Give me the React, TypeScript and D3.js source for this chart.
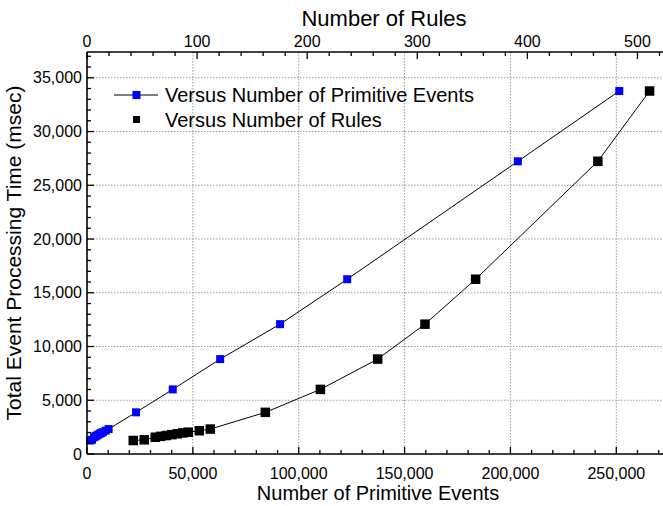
import React, { useRef, useEffect } from 'react';
import * as d3 from 'd3';

// total processing time (msec), shared by both series
const timeMs = [1255, 1320, 1560, 1640, 1720, 1800, 1880, 1960, 2030, 2165, 2320, 3875, 6010, 8830, 12080, 16260, 27230, 33770];
// x of the blue series: number of primitive events (bottom axis)
const primitiveEvents = [1500, 2400, 3300, 3900, 4600, 5300, 6000, 6700, 7500, 8800, 10200, 23160, 40500, 62900, 91200, 122900, 203500, 251400];
// x of the black series: number of rules (top axis)
const ruleCounts = [42, 52, 62, 67, 72, 77, 82, 87, 92, 102, 112, 162, 212, 264, 307, 353, 464, 511];

const bottomTicks = [0, 50000, 100000, 150000, 200000, 250000];
const topTicks = [0, 100, 200, 300, 400, 500];
const leftTicks = [0, 5000, 10000, 15000, 20000, 25000, 30000, 35000];

const legendLabels = ['Versus Number of Primitive Events', 'Versus Number of Rules'];

const FONT = '"Liberation Sans", Arial, sans-serif';

export default function App() {
  const svgRef = useRef<SVGSVGElement>(null);

  useEffect(() => {
    if (!svgRef.current) return;
    const svg = d3.select(svgRef.current);
    svg.selectAll('*').remove();

    const W = 663, H = 506;
    const plot = { left: 87, right: 665, top: 52, bottom: 454 };

    const x = d3.scaleLinear().domain([0, 273000]).range([plot.left, plot.right]);
    const xTop = d3.scaleLinear().domain([0, 525]).range([plot.left, plot.right]);
    const y = d3.scaleLinear().domain([0, 37400]).range([plot.bottom, plot.top]);

    svg.attr('width', W).attr('height', H);
    svg.append('rect').attr('width', W).attr('height', H).attr('fill', '#fff');

    // dotted grid
    const grid = svg.append('g').attr('stroke', '#9a9a9a').attr('stroke-width', 1).attr('stroke-dasharray', '1.5 1.5');
    bottomTicks.filter(d => d > 0).forEach(d => {
      grid.append('line').attr('x1', x(d)).attr('x2', x(d)).attr('y1', plot.top).attr('y2', plot.bottom);
    });
    leftTicks.filter(d => d > 0).forEach(d => {
      grid.append('line').attr('x1', plot.left).attr('x2', plot.right).attr('y1', y(d)).attr('y2', y(d));
    });

    // series
    const idx = d3.range(timeMs.length);
    const blueLine = d3.line<number>().x(i => x(primitiveEvents[i])).y(i => y(timeMs[i]));
    const blackLine = d3.line<number>().x(i => xTop(ruleCounts[i])).y(i => y(timeMs[i]));

    svg.append('path').attr('d', blueLine(idx)).attr('fill', 'none').attr('stroke', '#000').attr('stroke-width', 1);
    svg.append('path').attr('d', blackLine(idx)).attr('fill', 'none').attr('stroke', '#000').attr('stroke-width', 1);

    const bs = 8, ks = 9.5;
    svg.append('g').selectAll('rect').data(idx).join('rect')
      .attr('x', i => x(primitiveEvents[i]) - bs / 2)
      .attr('y', i => y(timeMs[i]) - bs / 2)
      .attr('width', bs).attr('height', bs)
      .attr('fill', '#0000ff');
    svg.append('g').selectAll('rect').data(idx).join('rect')
      .attr('x', i => xTop(ruleCounts[i]) - ks / 2)
      .attr('y', i => y(timeMs[i]) - ks / 2)
      .attr('width', ks).attr('height', ks)
      .attr('fill', '#000');

    // axes (ticks point inward)
    const axes = svg.append('g').attr('stroke', '#000');
    const major = 7, minor = 4;

    axes.append('line').attr('x1', plot.left).attr('x2', plot.right).attr('y1', plot.bottom).attr('y2', plot.bottom).attr('stroke-width', 1.6);
    axes.append('line').attr('x1', plot.left).attr('x2', plot.right).attr('y1', plot.top).attr('y2', plot.top).attr('stroke-width', 1.6);
    axes.append('line').attr('x1', plot.left).attr('x2', plot.left).attr('y1', plot.top).attr('y2', plot.bottom).attr('stroke-width', 1.6);

    d3.range(0, 273001, 10000).forEach(d => {
      const len = d % 50000 === 0 ? major : minor;
      axes.append('line').attr('x1', x(d)).attr('x2', x(d)).attr('y1', plot.bottom).attr('y2', plot.bottom - len).attr('stroke-width', 1.3);
    });
    d3.range(0, 526, 20).forEach(d => {
      const len = d % 100 === 0 ? major : minor;
      axes.append('line').attr('x1', xTop(d)).attr('x2', xTop(d)).attr('y1', plot.top).attr('y2', plot.top + len).attr('stroke-width', 1.3);
    });
    d3.range(0, 37401, 1000).forEach(d => {
      const len = d % 5000 === 0 ? major : minor;
      axes.append('line').attr('x1', plot.left).attr('x2', plot.left + len).attr('y1', y(d)).attr('y2', y(d)).attr('stroke-width', 1.3);
    });

    const fmt = d3.format(',');
    const labels = svg.append('g').attr('font-family', FONT).attr('font-size', 16).attr('fill', '#000');
    bottomTicks.forEach(d => {
      labels.append('text').attr('x', x(d)).attr('y', 479).attr('text-anchor', 'middle').text(fmt(d));
    });
    topTicks.forEach(d => {
      labels.append('text').attr('x', xTop(d)).attr('y', 47).attr('text-anchor', 'middle').text(fmt(d));
    });
    leftTicks.forEach(d => {
      labels.append('text').attr('x', 82).attr('y', y(d) + 5.5).attr('text-anchor', 'end').text(fmt(d));
    });

    // axis titles
    svg.append('text').attr('x', 384).attr('y', 26).attr('text-anchor', 'middle')
      .attr('font-family', FONT).attr('font-size', 22).text('Number of Rules');
    svg.append('text').attr('x', 378).attr('y', 500).attr('text-anchor', 'middle')
      .attr('font-family', FONT).attr('font-size', 20).text('Number of Primitive Events');
    svg.append('text').attr('transform', `translate(21,${(plot.top + plot.bottom) / 2}) rotate(-90)`)
      .attr('text-anchor', 'middle').attr('font-family', FONT).attr('font-size', 21)
      .text('Total Event Processing Time (msec)');

    // legend
    const lg = svg.append('g').attr('font-family', FONT).attr('font-size', 20);
    lg.append('line').attr('x1', 114).attr('x2', 158).attr('y1', 95).attr('y2', 95).attr('stroke', '#000').attr('stroke-width', 1);
    lg.append('rect').attr('x', 136.5 - 4).attr('y', 95 - 4).attr('width', 8).attr('height', 8).attr('fill', '#0000ff');
    lg.append('text').attr('x', 165).attr('y', 102).text(legendLabels[0]);
    lg.append('rect').attr('x', 136.5 - 3.5).attr('y', 119.5 - 3.5).attr('width', 7).attr('height', 7).attr('fill', '#000');
    lg.append('text').attr('x', 165).attr('y', 127).text(legendLabels[1]);
  }, []);

  return (
    <svg
      ref={svgRef}
      style={{ position: 'absolute', left: 0, top: 0, display: 'block' }}
    />
  );
}
